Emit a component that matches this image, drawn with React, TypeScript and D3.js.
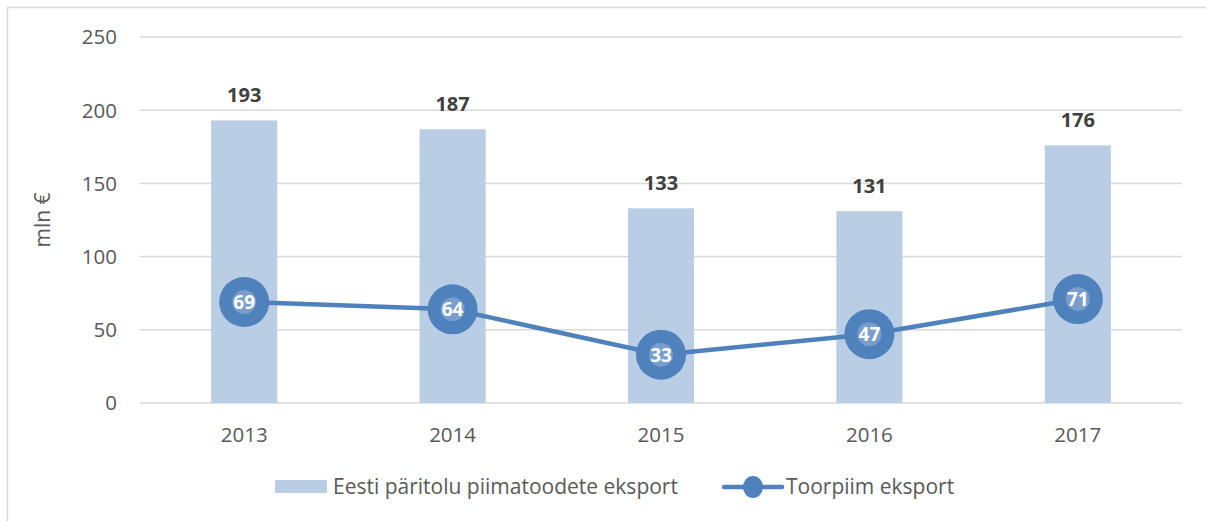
import React from "react";
import * as d3 from "d3";

const years = ["2013", "2014", "2015", "2016", "2017"];
const dairyExport = [193, 187, 133, 131, 176];
const rawMilkExport = [69, 64, 33, 47, 71];
const yTicks = [0, 50, 100, 150, 200, 250];
const seriesNames = ["Eesti päritolu piimatoodete eksport", "Toorpiim eksport"];

const W = 1206;
const H = 521;
const FONT = "'Open Sans', sans-serif";
const BAR = "#b9cde5";
const LINE = "#4f81bd";
const TXT = "#595959";

export default function App() {
  const left = 140, right = 1182, top = 37, bottom = 403;
  const x = d3.scaleBand<string>().domain(years).range([left, right]).padding(0);
  const y = d3.scaleLinear().domain([0, 250]).range([bottom, top]);
  const barW = x.bandwidth() * 0.317;
  const cx = (d: string) => (x(d) as number) + x.bandwidth() / 2;
  const line = d3.line<number>().x((_, i) => cx(years[i])).y((v) => y(v));

  return (
    <svg width={W} height={H} style={{ position: "absolute", left: 0, top: 0 }} fontFamily={FONT}>
      <rect x={0} y={0} width={W} height={H} fill="#fff" />
      <rect x={7.5} y={7.5} width={W + 10} height={H + 10} fill="none" stroke="#d9d9d9" strokeWidth={1.5} />
      {yTicks.map((t) => (
        <g key={t}>
          <line x1={left} x2={right} y1={y(t)} y2={y(t)} stroke="#d9d9d9" strokeWidth={1.5} />
          <text x={117} y={y(t)} dy="0.36em" textAnchor="end" fontSize={20.5} fill={TXT}>{t}</text>
        </g>
      ))}
      <text transform={`translate(50,${(top + bottom) / 2}) rotate(-90)`} textAnchor="middle" fontSize={21} fill={TXT}>mln €</text>
      {years.map((yr, i) => (
        <g key={yr}>
          <rect x={cx(yr) - barW / 2} y={y(dairyExport[i])} width={barW} height={bottom - y(dairyExport[i])} fill={BAR} />
          <text x={cx(yr)} y={y(dairyExport[i]) - 18} textAnchor="middle" fontSize={20} fontWeight="bold" fill="#404040">{dairyExport[i]}</text>
          <text x={cx(yr)} y={442} textAnchor="middle" fontSize={20.5} fill={TXT}>{yr}</text>
        </g>
      ))}
      <path d={line(rawMilkExport) || ""} fill="none" stroke={LINE} strokeWidth={4.5} strokeLinecap="round" />
      {years.map((yr, i) => (
        <g key={"m" + yr}>
          <circle cx={cx(yr)} cy={y(rawMilkExport[i])} r={25} fill={LINE} />
          <circle cx={cx(yr)} cy={y(rawMilkExport[i])} r={12} fill="#a9c0e0" opacity={0.45} />
          <text x={cx(yr)} y={y(rawMilkExport[i])} dy="0.36em" textAnchor="middle" fontSize={19} fontWeight="bold" fill="#fff">{rawMilkExport[i]}</text>
        </g>
      ))}
      <rect x={275} y={480} width={52} height={13} fill={BAR} />
      <text x={333} y={494} fontSize={21} fill={TXT}>{seriesNames[0]}</text>
      <line x1={724} x2={782} y1={487} y2={487} stroke={LINE} strokeWidth={4.5} strokeLinecap="round" />
      <ellipse cx={753} cy={487} rx={10} ry={11} fill={LINE} />
      <text x={786} y={494} fontSize={21} fill={TXT}>{seriesNames[1]}</text>
    </svg>
  );
}
